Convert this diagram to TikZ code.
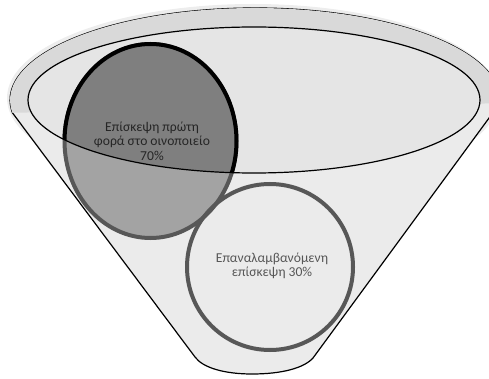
\documentclass[tikz,border=0pt]{standalone}
\usepackage{fontspec}
\setmainfont{Carlito}

\definecolor{halo}{HTML}{EDEDED}
\definecolor{conefill}{HTML}{EBEBEB}
\definecolor{bandfill}{HTML}{D9D9D9}
\definecolor{mouthfill}{HTML}{E5E5E5}
\definecolor{firstdark}{HTML}{7F7F7F}
\definecolor{firstlight}{HTML}{A3A3A3}
\definecolor{ringgray}{HTML}{575757}

\tikzstyle{rim} = [draw=black, line width=1.2pt]
\tikzstyle{ring} = [line width=4pt]
\tikzstyle{share} = [align=center, font=\fontsize{13.6}{14.5}\selectfont]

\begin{document}
\begin{tikzpicture}[x=1pt,y=-1pt,every node/.style={inner sep=0pt}]
			\useasboundingbox (0,0) rectangle (489,379);
			% soft shade round the rim
			\fill [halo] (253,98) ellipse [x radius=246pt, y radius=94pt];
			% funnel body
			\filldraw [fill=conefill, rim] (313,358) -- (499.9,103.2)
				arc [start angle=-2, end angle=188, x radius=245pt, y radius=92pt]
				-- (195,357) .. controls (203,368) and (225,374) .. (252,374)
				.. controls (282,374) and (304,368) .. (313,358) -- cycle;
			\fill [bandfill] (499.9,103.2)
				arc [start angle=-2, end angle=188, x radius=245pt, y radius=92pt] -- cycle;
			\fill [mouthfill] (254,100) ellipse [x radius=226pt, y radius=73pt];
			% first visit
			\filldraw [fill=firstlight, draw=ringgray, ring] (150.5,141) ellipse [x radius=86pt, y radius=97pt];
			\begin{scope}
				\clip (254,100) ellipse [x radius=226pt, y radius=73pt];
				\filldraw [fill=firstdark, draw=black, ring] (150.5,141) ellipse [x radius=86pt, y radius=97pt];
			\end{scope}
			\draw [rim] (254,100) ellipse [x radius=226pt, y radius=73pt];
			% repeat visit
			\draw [draw=ringgray, ring] (270,267) circle [radius=83pt];
			\node [share, text=black!85] (first) at (152,141) {Επίσκεψη πρώτη\\φορά στο οινοποιείο\\70\%};
			\node [share, text=ringgray] (repeat) at (272,266) {Επαναλαμβανόμενη\\επίσκεψη 30\%};
		\end{tikzpicture}
\end{document}
